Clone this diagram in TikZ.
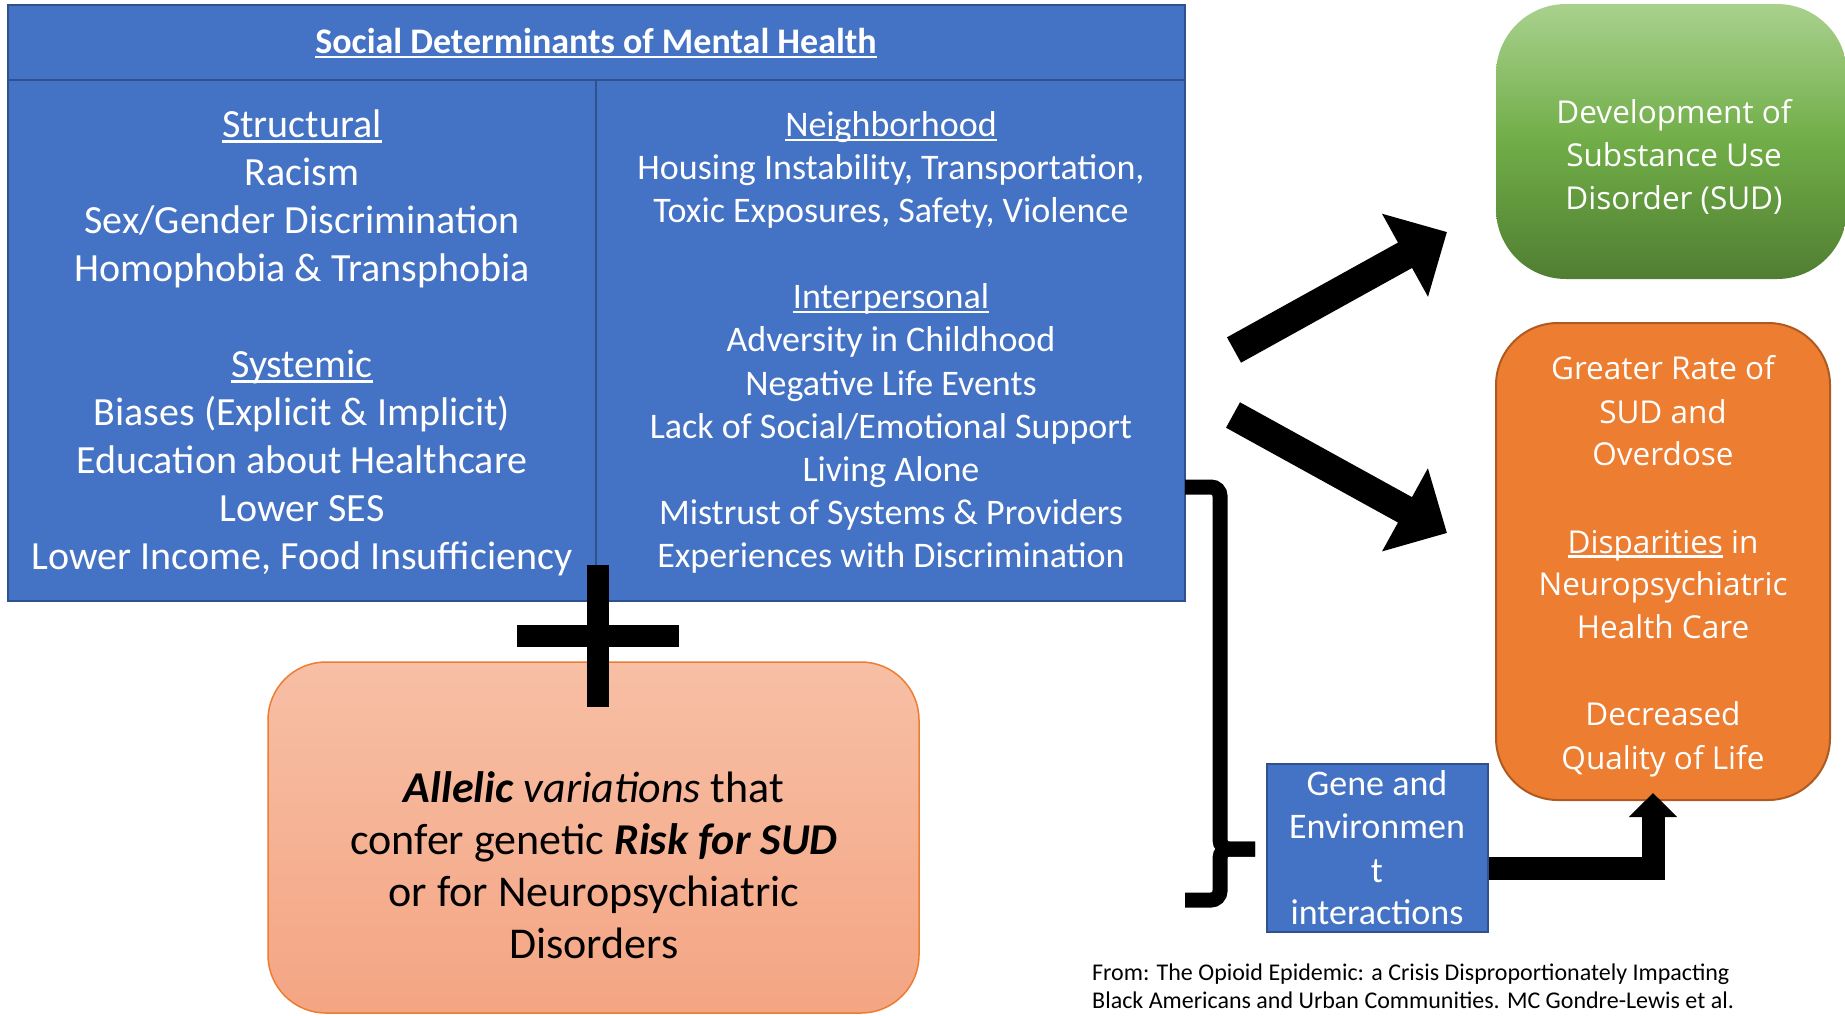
\documentclass[tikz,border=0pt]{standalone}
\usepackage{fontspec}
\setmainfont{Carlito}
\newfontfamily\segoe{Open Sans}
\usetikzlibrary{arrows.meta}
\definecolor{blueM}{HTML}{4472C4}
\definecolor{blueD}{HTML}{2F528F}
\definecolor{orangeM}{HTML}{ED7D31}
\definecolor{orangeD}{HTML}{AE5A21}
\definecolor{greenT}{HTML}{A9D18E}
\definecolor{greenM}{HTML}{70AD47}
\definecolor{greenB}{HTML}{507E32}
\definecolor{salmonT}{HTML}{F7BFA5}
\definecolor{salmonB}{HTML}{F4A583}
\newcommand\myul[1]{\leavevmode\setbox0\hbox{#1}\rlap{\rule[-0.15em]{\wd0}{0.075em}}\box0\relax}
\begin{document}
\begin{tikzpicture}[x=1pt,y=-1pt,
  bluebox/.style={draw=blueD, fill=blueM, line width=2pt, inner sep=0pt},
  divline/.style={draw=blueD, line width=2pt},
  ttl/.style={text=white, font=\bfseries\fontsize{36}{43}\selectfont, anchor=base, inner sep=0pt},
  lc/.style={text=white, font=\fontsize{40}{48}\selectfont, anchor=base, inner sep=0pt},
  rc/.style={text=white, font=\fontsize{36}{43}\selectfont, anchor=base, inner sep=0pt},
  gtxt/.style={text=white, font=\fontsize{36}{43}\selectfont, anchor=base, inner sep=0pt},
  stxt/.style={text=black, font=\fontsize{44}{52}\selectfont, anchor=base, inner sep=0pt},
  otxt/.style={text=white, font=\segoe\fontsize{31.5}{43}\selectfont, anchor=base, inner sep=0pt},
  foot/.style={text=black, font=\fontsize{24}{28}\selectfont, anchor=base west, inner sep=0pt},
  greenbox/.style={rectangle, rounded corners=70pt, top color=greenT, bottom color=greenB, middle color=greenM, inner sep=0pt},
  orangebox/.style={rectangle, rounded corners=62pt, draw=orangeD, fill=orangeM, line width=2pt, inner sep=0pt},
  salmonbox/.style={rectangle, rounded corners=58pt, draw=orangeM, top color=salmonT, bottom color=salmonB, line width=1.5pt, inner sep=0pt},
  bigarrow/.style={line width=29pt, -{Triangle[width=92pt,length=48pt]}},
  elbowarrow/.style={line width=23pt, -{Triangle[width=47pt,length=24pt]}},
  bracestyle/.style={line width=15pt, rounded corners=9pt},
  plusstyle/.style={line width=22pt}
]
\useasboundingbox (0,0) rectangle (1845,1015);
\clip (0,0) rectangle (1845,1015);
\fill[white] (0,0) rectangle (1845,1015);

% main blue box
\node[bluebox, minimum width=1177pt, minimum height=596pt] (sdmh) at (596.5,303) {};
\coordinate (hl) at (0,80);
\coordinate (dv) at (596,0);
\draw[divline] (sdmh.west |- hl) -- (sdmh.east |- hl);
\draw[divline] (dv |- hl) -- (dv |- sdmh.south);
\node[ttl] (title) at (596,53) {\myul{Social Determinants of Mental Health}};

% left column
\node[lc] (l1) at (302,137) {\myul{Structural}};
\node[lc] (l2) at (302,185) {Racism};
\node[lc] (l3) at (302,233) {Sex/Gender Discrimination};
\node[lc] (l4) at (302,281) {Homophobia \& Transphobia};
\node[lc] (l5) at (302,377) {\myul{Systemic}};
\node[lc] (l6) at (302,425) {Biases (Explicit \& Implicit)};
\node[lc] (l7) at (302,473) {Education about Healthcare};
\node[lc] (l8) at (302,521) {Lower SES};
\node[lc] (l9) at (302,569) {Lower Income, Food Insufficiency};

% right column
\node[rc] (r1) at (891,136) {\myul{Neighborhood}};
\node[rc] (r2) at (891,179) {Housing Instability, Transportation,};
\node[rc] (r3) at (891,222) {Toxic Exposures, Safety, Violence};
\node[rc] (r4) at (891,308) {\myul{Interpersonal}};
\node[rc] (r5) at (891,351) {Adversity in Childhood};
\node[rc] (r6) at (891,395) {Negative Life Events};
\node[rc] (r7) at (891,438) {Lack of Social/Emotional Support};
\node[rc] (r8) at (891,481) {Living Alone};
\node[rc] (r9) at (891,524) {Mistrust of Systems \& Providers};
\node[rc] (r10) at (891,567) {Experiences with Discrimination};

% green box
\node[greenbox, minimum width=351pt, minimum height=275pt] (dev) at (1671.5,141.5) {};
\node[otxt] (g1) at (1674,123) {Development of};
\node[otxt] (g2) at (1674,166) {Substance Use};
\node[otxt] (g3) at (1674,209) {Disorder (SUD)};

% orange box
\node[orangebox, minimum width=334pt, minimum height=477pt] (out) at (1663,561.5) {};
\node[otxt] (o1) at (1663,379) {Greater Rate of};
\node[otxt] (o2) at (1663,423) {SUD and};
\node[otxt] (o3) at (1663,465) {Overdose};
\node[otxt] (o4) at (1663,553) {\myul{Disparities} in};
\node[otxt] (o5) at (1663,595) {Neuropsychiatric};
\node[otxt] (o6) at (1663,638) {Health Care};
\node[otxt] (o7) at (1663,725) {Decreased};
\node[otxt] (o8) at (1663,769) {Quality of Life};

% salmon box
\node[salmonbox, minimum width=651pt, minimum height=351pt] (allele) at (593.5,837.5) {};
\node[stxt] (s1) at (594,802) {\textbf{\textit{Allelic}} \textit{variations} that};
\node[stxt] (s2) at (594,854) {confer genetic \textbf{\textit{Risk for SUD}}};
\node[stxt] (s3) at (594,906) {or for Neuropsychiatric};
\node[stxt] (s4) at (594,958) {Disorders};

% gene box
\node[bluebox, minimum width=221pt, minimum height=168pt] (gene) at (1377.5,848) {};
\node[gtxt] (e1) at (1377,795) {Gene and};
\node[gtxt] (e2) at (1377,838) {Environmen};
\node[gtxt] (e3) at (1377,882) {t};
\node[gtxt] (e4) at (1377,924) {interactions};

% footnote
\node[foot] (f1) at (1092,980) {From: The Opioid Epidemic: a Crisis Disproportionately Impacting};
\node[foot] (f2) at (1092,1008) {Black Americans and Urban Communities. MC Gondre-Lewis et al.};

% arrows
\coordinate (a1s) at (1234,350);
\coordinate (a1e) at (1447,232);
\coordinate (a2s) at (1233,415);
\coordinate (a2e) at (1447,533);
\draw[bigarrow] (a1s) -- (a1e);
\draw[bigarrow] (a2s) -- (a2e);

\coordinate (ea) at (gene.east |- 0,868);
\coordinate (et) at (1653,793);
\draw[elbowarrow] (ea) -| (et);

% brace
\coordinate (b1) at (1185,487);
\coordinate (b2) at (1185,900);
\coordinate (btip) at (1255,849);
\draw[bracestyle] (b1) -| (1220,849) -- (btip);
\draw[bracestyle] (btip) -| (1220,900) -- (b2);

% plus
\coordinate (pv1) at (598,565);
\coordinate (pv2) at (598,707);
\coordinate (ph1) at (517,636);
\coordinate (ph2) at (679,636);
\draw[plusstyle] (pv1) -- (pv2);
\draw[plusstyle] (ph1) -- (ph2);
\end{tikzpicture}
\end{document}
